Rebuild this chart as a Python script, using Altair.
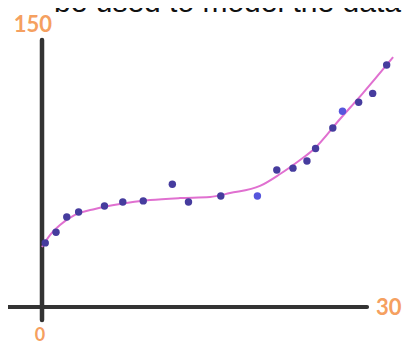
import altair as alt
import pandas as pd

# Scatter data
px = [0.3, 1.3, 2.3, 3.4, 5.8, 7.5, 9.4, 12.1, 13.6, 16.6, 20.0, 21.8, 23.3, 24.6, 25.4, 27.0, 27.9, 29.4, 30.7, 32.0]
py = [36, 42, 50.6, 53.4, 56.7, 59, 59.6, 69, 59, 62.4, 62.4, 77, 78, 82, 89, 100.6, 110, 115, 120, 136]
pkind = ["d"] * 10 + ["b"] + ["d"] * 5 + ["b"] + ["d"] * 3

# Fitted curve
cx = [0, 0.74, 1.67, 3.06, 4.92, 7.24, 10.03, 12.81, 15.6, 17.46, 20.24, 22.1, 23.96, 25.16, 27.67, 29.8, 32.6]
cy = [33.7, 40.4, 46.1, 51.7, 55.1, 57.9, 60.1, 61.2, 61.8, 64, 68, 74.7, 82.6, 88.2, 105.6, 120.2, 140.4]

# Axis labels
lab_text = ["150", "0", "30"]
lab_x = [-0.84, -0.19, 32.2]
lab_y = [158.5, -16.5, -0.6]
lab_size = [22, 18, 22]

xs = alt.Scale(domain=[-3.157, 33.61], nice=False, zero=False)
ys = alt.Scale(domain=[-20.79, 167.98], nice=False, zero=False)

pts = pd.DataFrame({"x": px, "y": py, "k": pkind})
crv = pd.DataFrame({"x": cx, "y": cy})
labs = pd.DataFrame({"t": lab_text, "x": lab_x, "y": lab_y, "s": lab_size})
hax = pd.DataFrame({"x": [-3.44], "x2": [30.18], "y": [0]})
vax = pd.DataFrame({"x": [0], "y": [150], "y2": [-7.3]})

X = lambda f="x": alt.X(f, type="quantitative", scale=xs, axis=None)
Y = lambda f="y": alt.Y(f, type="quantitative", scale=ys, axis=None)

h = alt.Chart(hax).mark_rule(color="#333333", strokeWidth=4, strokeCap="round").encode(
    x=X(), x2="x2", y=Y())
v = alt.Chart(vax).mark_rule(color="#333333", strokeWidth=4.5, strokeCap="round").encode(
    x=X(), y=Y(), y2="y2")
line = alt.Chart(crv).mark_line(color="#e070d0", strokeWidth=2, interpolate="monotone").encode(
    x=X(), y=Y())
dots = alt.Chart(pts).mark_point(filled=True, size=55, opacity=1).encode(
    x=X(), y=Y(),
    color=alt.Color("k:N", scale=alt.Scale(domain=["d", "b"], range=["#463c9e", "#5656dc"]), legend=None))
txt = alt.Chart(labs).mark_text(color="#f5a060", font="Lato", fontWeight="bold").encode(
    x=X(), y=Y(), text="t:N", size=alt.Size("s:Q", scale=None, legend=None))
title = alt.Chart(pd.DataFrame({"t": ["be used to model the data"]})).mark_text(
    color="#111111", fontSize=30, font="Liberation Sans", align="left", baseline="alphabetic"
).encode(x=alt.value(46), y=alt.value(4), text="t:N")

chart = alt.layer(h, v, line, dots, txt, title).properties(
    width=396, height=336, padding=0, autosize="none"
).configure_view(stroke=None)

chart.save("out.html", embed_options={"renderer": "svg", "actions": False})
